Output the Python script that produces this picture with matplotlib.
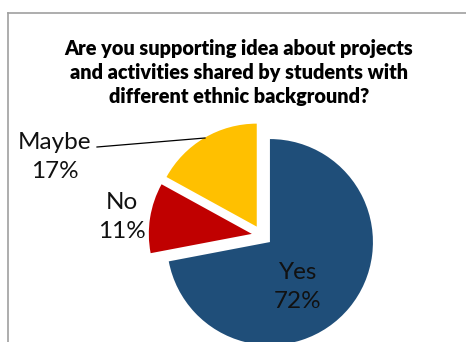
import matplotlib
matplotlib.use("Agg")
import matplotlib.pyplot as plt
from matplotlib.lines import Line2D

categories = ["Yes", "No", "Maybe"]
values = [72, 11, 17]
colors = ["#1F4E79", "#C00000", "#FFC000"]
title = ("Are you supporting idea about projects\n"
         "and activities shared by students with\n"
         "different ethnic background?")

W, H = 466, 342
fig = plt.figure(figsize=(W / 100, H / 100), dpi=100)
ax = fig.add_axes([0, 0, 1, 1])

cx, cy, r = 262, H - 235.5, 103
# explode offsets are in data units here (pixels), not radius fractions
explode_px = 10.3
wedges, _ = ax.pie(values, colors=colors, startangle=90, counterclock=False,
                   explode=[explode_px] * len(values), radius=r, center=(cx, cy),
                   frame=True, wedgeprops=dict(linewidth=0))
ax.set_xlim(0, W)
ax.set_ylim(0, H)
ax.set_aspect("equal")
ax.axis("off")

font = "Lato"
labels = [f"{c}\n{v}%" for c, v in zip(categories, values)]
label_pos = {"Yes": (298, H - 287), "No": (122, H - 217), "Maybe": (55, H - 157)}
for c, lab in zip(categories, labels):
    x, y = label_pos[c]
    ax.text(x, y, lab, ha="center", va="center", fontsize=17.5, family=font,
            color="#111111", linespacing=1.5)

# leader line for the Maybe label
ax.plot([97, 205], [H - 147, H - 138], color="black", lw=0.9)

fig.text(239 / W, 1 - 72.5 / H, title, ha="center", va="center", fontsize=14.3,
         fontweight="heavy", family=font, linespacing=1.3)

# chart area border (top and left edges visible)
fig.add_artist(Line2D([7.5 / W, 1], [1 - 12.5 / H, 1 - 12.5 / H],
                      transform=fig.transFigure, color="#a0a0a0", lw=1.2))
fig.add_artist(Line2D([7.5 / W, 7.5 / W], [0, 1 - 12.5 / H],
                      transform=fig.transFigure, color="#a0a0a0", lw=1.2))

fig.savefig("out.png", dpi=100)
